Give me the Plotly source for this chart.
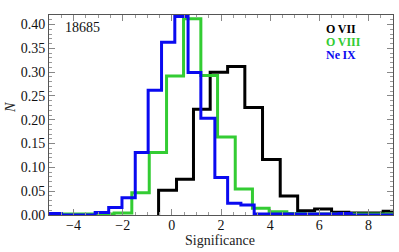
import plotly.graph_objects as go

# ---- data (bin edges and normalised heights) ----
ovii_edges = [-0.54, 0.19, 0.88, 1.56, 2.27, 2.97, 3.69, 4.41, 5.12, 5.81, 6.50, 7.20, 7.90, 8.60, 9.30]
ovii_heights = [0.052, 0.075, 0.222, 0.300, 0.312, 0.2255, 0.1166, 0.0398, 0.009, 0.0126, 0.006, 0.004, 0.004, 0.008]

oviii_edges = [-5.0, -4.5, -3.16, -2.35, -1.63, -0.92, -0.216, 0.476, 1.18, 1.86, 2.58, 3.28, 3.96, 4.68, 5.39, 9.3]
oviii_heights = [0.0, 0.002, 0.002, 0.004, 0.0467, 0.131, 0.292, 0.412, 0.293, 0.164, 0.0545, 0.014, 0.007, 0.003, 0.002]

neix_edges = [-5.0, -4.5, -3.12, -2.57, -2.03, -1.49, -0.965, -0.42, 0.12, 0.66, 1.18, 1.75, 2.27, 2.81, 3.35, 6.80, 7.30, 9.3]
neix_heights = [0.003, 0.0, 0.005, 0.016, 0.036, 0.131, 0.262, 0.363, 0.417, 0.299, 0.203, 0.079, 0.0245, 0.021, 0.002, 0.003, 0.0]

series_names = ["O\u2009VII", "O\u2009VIII", "Ne\u2009IX"]
series_colors = ["#000000", "#33CC33", "#0A0AF0"]

x_tickvals = [-4, -2, 0, 2, 4, 6, 8]
y_tickvals = [0.00, 0.05, 0.10, 0.15, 0.20, 0.25, 0.30, 0.35, 0.40]
obsid_label = "18685"
x_title = "Significance"
y_title = "N"

FONT = "Liberation Serif, Times New Roman, Times, serif"

W, H = 399, 252
plot_l, plot_r, plot_t, plot_b = 49, 393, 15, 215


def step_xy(edges, heights):
    xs = [edges[0]] + list(edges)
    ys = [0.0] + list(heights) + [heights[-1]]
    return xs, ys


def px2paper(px, py):
    return (px - plot_l) / (plot_r - plot_l), (plot_b - py) / (plot_b - plot_t)


fig = go.Figure()
for edges, heights, name, color in [
    (ovii_edges, ovii_heights, series_names[0], series_colors[0]),
    (oviii_edges, oviii_heights, series_names[1], series_colors[1]),
    (neix_edges, neix_heights, series_names[2], series_colors[2]),
]:
    xs, ys = step_xy(edges, heights)
    fig.add_trace(go.Scatter(x=xs, y=ys, mode="lines", line_shape="hv",
                             line=dict(color=color, width=3), name=name,
                             showlegend=False, cliponaxis=True, hoverinfo="skip"))

# legend as text
for i, (name, color) in enumerate(zip(series_names, series_colors)):
    ax, ay = px2paper(324, 29 + 12.8 * i)
    fig.add_annotation(x=ax, y=ay, xref="paper", yref="paper",
                       text=f"<b>{name}</b>", showarrow=False,
                       font=dict(family=FONT, size=12, color=color),
                       xanchor="left", yanchor="middle")

ax, ay = px2paper(63, 28)
fig.add_annotation(x=ax, y=ay, xref="paper", yref="paper", text=obsid_label,
                   showarrow=False, font=dict(family=FONT, size=14, color="#111111"),
                   xanchor="left", yanchor="middle")

ax, ay = px2paper(220, 240.5)
fig.add_annotation(x=ax, y=ay, xref="paper", yref="paper", text=x_title,
                   showarrow=False, font=dict(family=FONT, size=14, color="#222222"),
                   xanchor="center", yanchor="middle")

ax, ay = px2paper(10, 108)
fig.add_annotation(x=ax, y=ay, xref="paper", yref="paper", text=f"<i>{y_title}</i>",
                   showarrow=False, textangle=-90,
                   font=dict(family=FONT, size=14, color="#222222"),
                   xanchor="center", yanchor="middle")

axis_common = dict(showline=True, linecolor="#555555", linewidth=1, mirror="ticks",
                   ticks="inside", tickcolor="#888888", showgrid=False, zeroline=False,
                   automargin=False,
                   tickfont=dict(family=FONT, size=14, color="#111111"))

fig.update_layout(
    width=W, height=H,
    margin=dict(l=plot_l, r=W - plot_r, t=plot_t, b=H - plot_b),
    paper_bgcolor="white", plot_bgcolor="white",
    font=dict(family=FONT),
    hovermode=False,
    xaxis=dict(range=[-5, 9], tickvals=x_tickvals, ticklen=6, ticklabelstandoff=-3,
               minor=dict(dtick=0.5, tick0=0, ticks="inside", ticklen=3, tickcolor="#999999"),
               **axis_common),
    yaxis=dict(range=[0, 0.42], tickvals=y_tickvals, tickformat=".2f", ticklen=6,
               minor=dict(dtick=0.01, tick0=0, ticks="inside", ticklen=3, tickcolor="#999999"),
               **axis_common),
)

fig.write_html("out.html", config={"displayModeBar": False})

# remove the browser's default page margin so the figure sits at (0, 0)
with open("out.html", "r", encoding="utf-8") as f:
    html = f.read()
html = html.replace("<head>", "<head><style>html,body{margin:0;padding:0;overflow:hidden;}</style>", 1)
with open("out.html", "w", encoding="utf-8") as f:
    f.write(html)
